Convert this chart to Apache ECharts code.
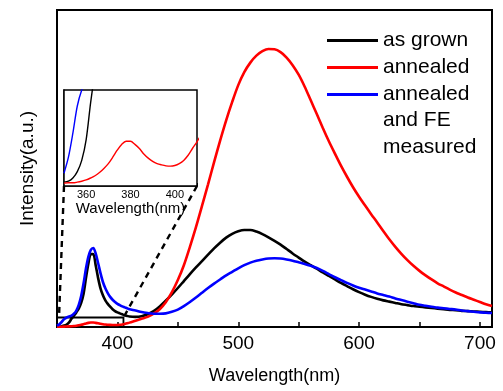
<!DOCTYPE html>
<html>
<head>
<meta charset="utf-8">
<script src="https://cdn.jsdelivr.net/npm/echarts@6/dist/echarts.min.js"></script>
<style>
    html, body { margin: 0; padding: 0; background: #fff; }
    #chart { width: 503px; height: 391px; }
</style>
</head>
<body>
<div id="chart"></div>
<script>
    // 波长 (nm)，UV 区间 2nm 一个点，后面 5nm 一个点
    const wl = [350,352,354,356,358,360,362,364,366,368,370,372,374,376,378,380,382,384,386,388,390,392,394,396,398,400,402,404,406,408,410,
        415,420,425,430,435,440,445,450,455,460,465,470,475,480,485,490,495,500,505,510,515,520,525,530,535,540,545,550,555,560,565,570,575,580,585,590,595,600,605,610,615,620,625,630,635,640,645,650,655,660,665,670,675,680,685,690,695,700,705,710]

    // as grown
    const asGrown = [0.12,0.15,0.25,0.45,0.8,1.45,2.6,3.6,4.6,5.8,7.6,10.5,15.5,20,23,23,19.5,15.5,12.2,10,8.4,7.3,6.4,5.6,5.0,4.6,4.3,4.0,3.7,3.5,3.3,
        3.2,3.4,4.0,5.0,6.5,8.3,10.2,12.3,14.5,16.7,18.8,20.8,22.8,24.8,26.6,28.2,29.4,30.2,30.6,30.6,30.1,29.3,28.3,27.2,26.0,24.6,23.2,21.9,20.6,19.5,18.4,17.2,16.1,15.0,13.9,12.9,11.9,11.0,10.2,9.5,8.9,8.4,8.0,7.6,7.2,6.9,6.6,6.4,6.2,6.0,5.8,5.6,5.4,5.3,5.1,5.0,4.9,4.8,4.7,4.6]

    // annealed
    const annealed = [0.09,0.1,0.1,0.12,0.15,0.19,0.25,0.32,0.42,0.55,0.7,0.9,1.12,1.3,1.4,1.4,1.3,1.17,1.0,0.87,0.77,0.7,0.66,0.63,0.62,0.64,0.7,0.8,0.96,1.18,1.38,
        2.0,2.6,3.2,4.2,5.6,7.8,10.9,14.8,19.5,25.3,31.5,38.2,45,52,58.8,65.2,71,76.3,80.4,83.4,85.6,87,87.7,87.6,86.7,85,82.6,79.6,75.8,71.5,67.2,62.8,58.6,54.7,50.9,47.4,44.1,41.1,38.3,35.6,33,30.3,27.7,25.3,23.1,21.1,19.3,17.7,16.3,15.0,13.8,12.8,11.8,10.9,10.1,9.3,8.6,7.9,7.2,6.6]

    // annealed and FE measured
    const annealedFE = [0.4,0.9,1.65,2.5,3.0,3.3,3.6,4.2,5.2,7.0,9.8,13.8,18.5,22.2,24.3,24.9,23.2,20.2,17,14.2,12.2,10.7,9.5,8.6,7.9,7.3,6.9,6.5,6.2,5.9,5.6,
        5.2,4.7,4.4,4.2,4.2,4.3,4.8,5.5,6.6,7.9,9.3,10.8,12.3,13.7,15,16.3,17.4,18.5,19.5,20.3,20.9,21.3,21.6,21.7,21.6,21.3,20.9,20.4,19.9,19.3,18.6,17.7,16.7,15.7,14.8,13.9,13.1,12.4,11.8,11.2,10.6,10.1,9.6,9.0,8.5,8.0,7.5,7.0,6.7,6.4,6.1,5.9,5.7,5.5,5.2,5.0,4.8,4.6,4.5,4.4]

    const seriesNames = ['as grown', 'annealed', 'annealed and FE measured']
    const seriesColors = ['#000000', '#ff0000', '#0000ff']
    const mainTicks = [400, 500, 600, 700]
    const insetTicks = [360, 380, 400]
    // 放大区域的范围
    const zoomBox = { x0: 350, x1: 405, y0: 0, y1: 3 }

    const FONT = "'Liberation Sans', Arial, sans-serif"

    function pairs(vals){
        return wl.map((x, i) => [x, vals[i]])
    }

    const allData = [asGrown, annealed, annealedFE]

    const series = []
    // 主图
    allData.forEach((vals, i) => {
        const s = {
            name: seriesNames[i],
            type: 'line',
            xAxisIndex: 0,
            yAxisIndex: 0,
            data: pairs(vals),
            showSymbol: false,
            smooth: 0.3,
            lineStyle: { color: seriesColors[i], width: 2.6 },
            itemStyle: { color: seriesColors[i] },
            z: 3 + (i === 2 ? 1 : 0)
        }
        if(i === 0){
            // 左下角的小框
            s.markArea = {
                silent: true,
                itemStyle: { color: 'rgba(0,0,0,0)', borderColor: '#000', borderWidth: 1.8 },
                data: [[{ coord: [zoomBox.x0, zoomBox.y0] }, { coord: [zoomBox.x1, zoomBox.y1] }]]
            }
        }
        series.push(s)
    })
    // 小图
    allData.forEach((vals, i) => {
        series.push({
            name: seriesNames[i],
            type: 'line',
            xAxisIndex: 1,
            yAxisIndex: 1,
            data: pairs(vals),
            showSymbol: false,
            smooth: 0.3,
            clip: true,
            lineStyle: { color: seriesColors[i], width: 1.4 },
            itemStyle: { color: seriesColors[i] },
            z: 6
        })
    })

    const option = {
        animation: false,
        backgroundColor: '#fff',
        textStyle: { fontFamily: FONT },
        grid: [
            { left: 57, top: 10, right: 11, bottom: 64, show: true, borderColor: '#000', borderWidth: 2, backgroundColor: 'transparent' },
            { left: 64, top: 90, width: 133, height: 96, show: true, borderColor: '#000', borderWidth: 1.5, backgroundColor: '#fff', z: 5 }
        ],
        legend: {
            orient: 'vertical',
            left: 327,
            top: 27,
            padding: 0,
            itemGap: 0,
            itemWidth: 51,
            itemHeight: 3,
            icon: 'rect',
            data: seriesNames,
            selectedMode: false,
            formatter: function(name){
                return name === seriesNames[2] ? 'annealed' : name
            },
            textStyle: { fontSize: 21, lineHeight: 27, color: '#000', fontFamily: FONT }
        },
        xAxis: [
            {
                type: 'value',
                gridIndex: 0,
                min: 350,
                max: 710,
                interval: 50,
                name: 'Wavelength(nm)',
                nameLocation: 'middle',
                nameGap: 40,
                nameTextStyle: { fontSize: 18, color: '#000', fontFamily: FONT },
                axisLine: { show: true, lineStyle: { color: '#000', width: 2 } },
                axisTick: { show: true, inside: true, length: 5, lineStyle: { color: '#000', width: 1.5 } },
                axisLabel: {
                    fontSize: 19, color: '#000', margin: 7, fontFamily: FONT,
                    formatter: v => mainTicks.includes(v) ? String(v) : ''
                },
                splitLine: { show: false }
            },
            {
                type: 'value',
                gridIndex: 1,
                min: 350,
                max: 410,
                interval: 10,
                name: 'Wavelength(nm)',
                nameLocation: 'middle',
                nameGap: 13,
                nameTextStyle: { fontSize: 15, color: '#000', fontFamily: FONT },
                axisLine: { show: true, lineStyle: { color: '#000', width: 1.5 } },
                axisTick: { show: true, inside: true, length: 3, lineStyle: { color: '#000', width: 1 } },
                axisLabel: {
                    fontSize: 11, color: '#000', margin: 3, fontFamily: FONT,
                    formatter: v => insetTicks.includes(v) ? String(v) : ''
                },
                splitLine: { show: false }
            }
        ],
        yAxis: [
            {
                type: 'value',
                gridIndex: 0,
                min: 0,
                max: 100,
                name: 'Intensity(a.u.)',
                nameLocation: 'middle',
                nameGap: 20,
                nameTextStyle: { fontSize: 19, color: '#000', fontFamily: FONT },
                axisLine: { show: true, lineStyle: { color: '#000', width: 2 } },
                axisTick: { show: false },
                axisLabel: { show: false },
                splitLine: { show: false }
            },
            {
                type: 'value',
                gridIndex: 1,
                min: 0,
                max: 3,
                axisLine: { show: true, lineStyle: { color: '#000', width: 1.5 } },
                axisTick: { show: false },
                axisLabel: { show: false },
                splitLine: { show: false }
            }
        ],
        series: series
    }

    const myChart = echarts.init(document.getElementById('chart'), null, { renderer: 'canvas' })
    myChart.setOption(option)

    // 虚线：小框 -> 放大图
    const insetBL = myChart.convertToPixel({ gridIndex: 1 }, [350, 0])
    const insetBR = myChart.convertToPixel({ gridIndex: 1 }, [410, 0])
    const boxTL = myChart.convertToPixel({ gridIndex: 0 }, [zoomBox.x0, zoomBox.y1])
    const boxTR = myChart.convertToPixel({ gridIndex: 0 }, [zoomBox.x1, zoomBox.y1])
    const legendX = 327 + 51 + 5

    const dashStyle = { stroke: '#000', lineWidth: 2.4, lineDash: [6, 5] }
    myChart.setOption({
        graphic: [
            { type: 'line', z: 10, shape: { x1: insetBL[0], y1: insetBL[1], x2: boxTL[0] + 2, y2: boxTL[1] }, style: dashStyle },
            { type: 'line', z: 10, shape: { x1: insetBR[0], y1: insetBR[1], x2: boxTR[0], y2: boxTR[1] }, style: dashStyle },
            { type: 'text', z: 10, left: legendX, top: 107, style: { text: 'and FE\nmeasured', fontSize: 21, lineHeight: 27, fill: '#000', font: '21px ' + FONT } }
        ]
    })
</script>
</body>
</html>
